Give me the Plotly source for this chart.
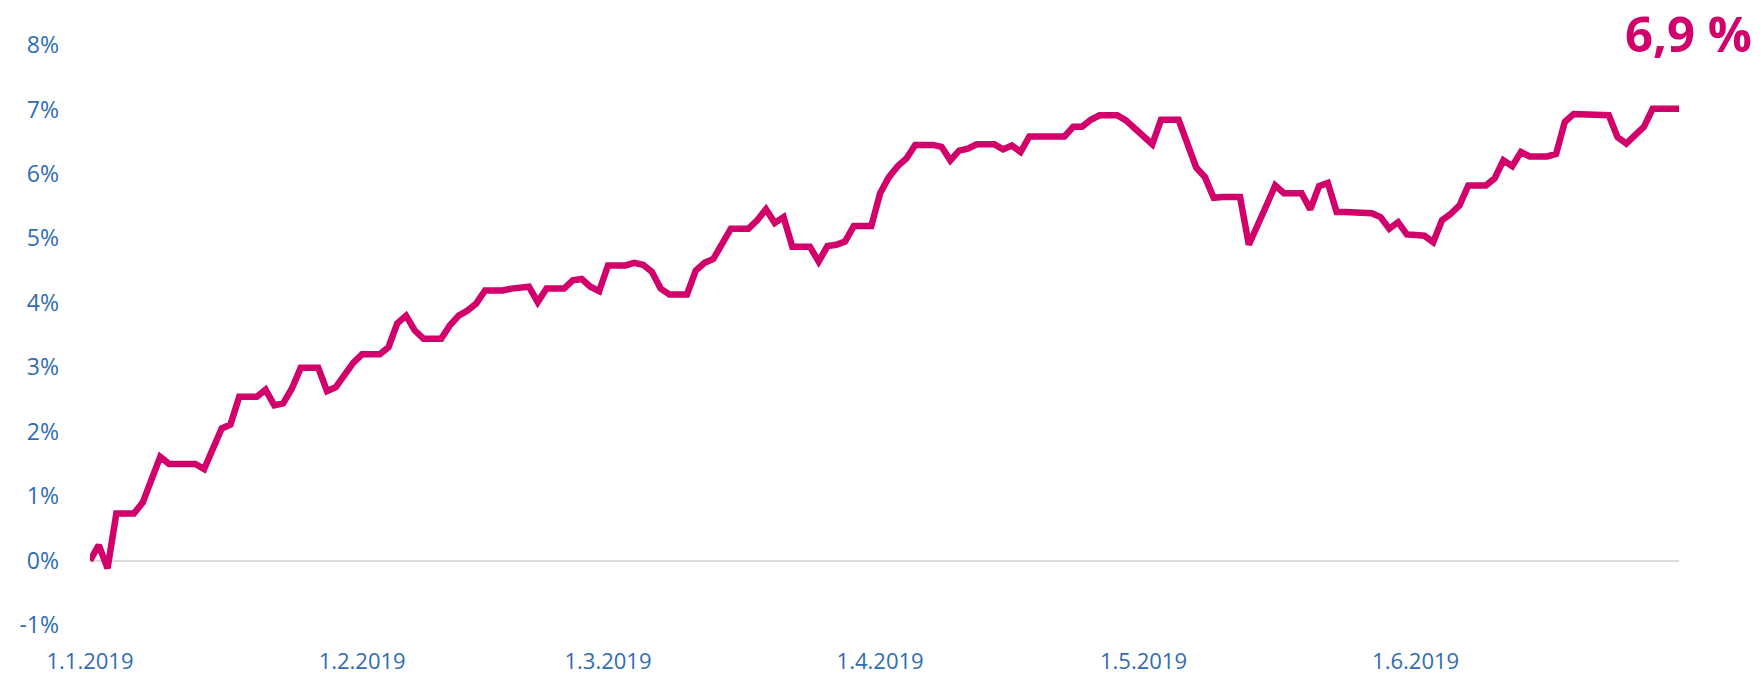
import pandas as pd
import plotly.graph_objects as go

# daily return since 1.1.2019, %, weekends/holidays carry the last value
jan = [0.00, 0.24, -0.12, 0.73, 0.73, 0.73, 0.90, 1.25, 1.61, 1.50,
       1.50, 1.50, 1.50, 1.42, 1.72, 2.05, 2.11, 2.54, 2.54, 2.54,
       2.65, 2.41, 2.44, 2.67, 2.99, 2.99, 2.99, 2.63, 2.69, 2.88, 3.07]
feb = [3.20, 3.20, 3.20, 3.31, 3.68, 3.80, 3.57, 3.44, 3.44, 3.44,
       3.65, 3.80, 3.88, 3.99, 4.19, 4.19, 4.19, 4.22, 4.24, 4.25,
       4.01, 4.22, 4.22, 4.22, 4.35, 4.37, 4.25, 4.18]
mar = [4.58, 4.58, 4.58, 4.62, 4.59, 4.48, 4.22, 4.13, 4.13, 4.13,
       4.50, 4.62, 4.68, 4.92, 5.15, 5.15, 5.15, 5.28, 5.45, 5.24,
       5.33, 4.87, 4.87, 4.87, 4.64, 4.88, 4.90, 4.95, 5.19, 5.19, 5.19]
apr = [5.70, 5.95, 6.12, 6.24, 6.45, 6.45, 6.45, 6.42, 6.21, 6.36,
       6.39, 6.46, 6.46, 6.46, 6.38, 6.44, 6.34, 6.58, 6.58, 6.58,
       6.58, 6.58, 6.73, 6.73, 6.84, 6.91, 6.91, 6.91, 6.83, 6.70]
may = [6.58, 6.46, 6.84, 6.84, 6.84, 6.47, 6.10, 5.95, 5.63, 5.64,
       5.64, 5.64, 4.90, 5.23, 5.51, 5.82, 5.70, 5.70, 5.70, 5.45,
       5.81, 5.86, 5.41, 5.41, 5.41, 5.41, 5.39, 5.33, 5.15, 5.25, 5.06]
jun = [5.05, 5.04, 4.94, 5.28, 5.38, 5.51, 5.82, 5.82, 5.82, 5.93,
       6.21, 6.12, 6.34, 6.27, 6.27, 6.27, 6.31, 6.81, 6.93, 6.92,
       6.91, 6.91, 6.91, 6.57, 6.47, 6.60, 6.73, 7.01, 7.01, 7.01]
jul = [7.01]

values = jan + feb + mar + apr + may + jun + jul
dates = pd.date_range("2019-01-01", periods=len(values), freq="D")

x_ticks = ["2019-01-01", "2019-02-01", "2019-03-01",
           "2019-04-01", "2019-05-01", "2019-06-01"]
x_labels = ["1.1.2019", "1.2.2019", "1.3.2019", "1.4.2019", "1.5.2019", "1.6.2019"]
y_ticks = [-1, 0, 1, 2, 3, 4, 5, 6, 7, 8]
y_labels = [f"{v}%" for v in y_ticks]
total_label = "6,9 %"

line_color = "#d1006b"
tick_color = "#2f6db5"
font = "Open Sans"

fig = go.Figure()
fig.add_trace(go.Scatter(
    x=dates, y=values, mode="lines",
    line=dict(color=line_color, width=6.5),
    hoverinfo="skip", showlegend=False,
))

fig.add_annotation(
    text=f"<b>{total_label}</b>", xref="paper", yref="paper",
    x=1.006, y=1.021, xanchor="center", yanchor="middle",
    showarrow=False, font=dict(size=49, color=line_color, family=font),
)

fig.update_xaxes(
    range=["2019-01-01", "2019-07-01"],
    tickvals=x_ticks, ticktext=x_labels,
    showgrid=False, zeroline=False, showline=False, ticks="",
    ticklabelstandoff=21, automargin=False,
    tickfont=dict(size=22, color=tick_color, family=font),
)
fig.update_yaxes(
    range=[-1, 8], tickvals=y_ticks, ticktext=y_labels,
    showgrid=False, zeroline=True, zerolinecolor="#dcdcdc", zerolinewidth=1.5,
    showline=False, ticks="", ticklabelstandoff=30, automargin=False,
    tickfont=dict(size=23, color=tick_color, family=font),
)
fig.update_layout(
    width=1761, height=677,
    margin=dict(l=90, r=82, t=45, b=52),
    plot_bgcolor="white", paper_bgcolor="white",
)

# the page body has a default 8px margin; drop it so the figure fills the window
fig.write_html("out.html", config={"displayModeBar": False},
               post_script="document.body.style.margin='0';")
